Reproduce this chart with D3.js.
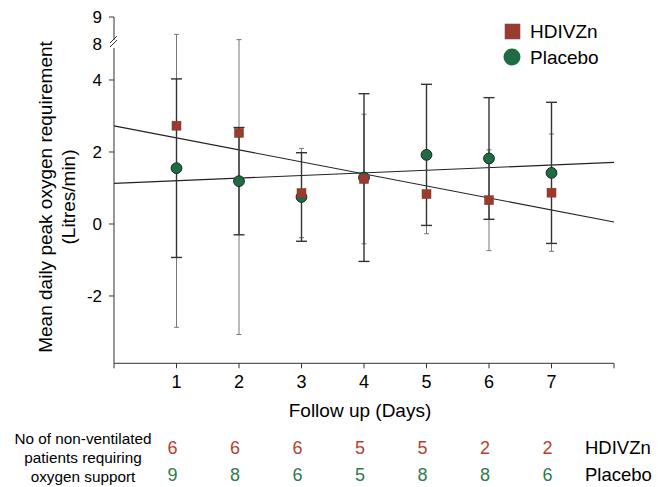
<!DOCTYPE html>
<html>
<head>
<meta charset="utf-8">
<script src="https://cdn.jsdelivr.net/npm/d3@7"></script>
<style>
  body { margin: 0; background: #fff; }
  svg { font-family: 'Liberation Sans', Arial, sans-serif; }
</style>
</head>
<body>
<div id="chart"></div>
<script>
const width = 665;
const height = 487;

const days = [1, 2, 3, 4, 5, 6, 7];
const zincMean = [2.73, 2.53, 0.86, 1.25, 0.83, 0.66, 0.87];
const zincSd = [5.6, 5.6, 1.24, 1.8, 1.1, 1.4, 1.63];
const placeboMean = [1.55, 1.19, 0.75, 1.29, 1.92, 1.82, 1.42];
const placeboSd = [2.48, 1.49, 1.23, 2.33, 1.96, 1.69, 1.96];
const zincCount = [6, 6, 6, 5, 5, 2, 2];
const placeboCount = [9, 8, 6, 5, 8, 8, 6];
const yTicks = [-2, 0, 2, 4];
const yTicksTop = [8, 9];

const red = '#9c3a2b';
const green = '#1f6b44';
const redText = '#b5402f';
const greenText = '#2f7a4f';

const svg = d3.select('#chart').append('svg')
    .attr('width', width)
    .attr('height', height);

const x = d3.scaleLinear().domain([0, 8]).range([114, 614]);
// broken axis: lower part up to 5, upper part 8..9
const y = d3.scaleLinear().domain([-3.87, 5, 8, 9]).range([363.3, 44, 43, 17]);

// least squares fit of the daily means
function fit(ys) {
    const mx = d3.mean(days), my = d3.mean(ys);
    const slope = d3.sum(days, (d, i) => (d - mx) * (ys[i] - my)) / d3.sum(days, d => (d - mx) ** 2);
    return {slope, intercept: my - slope * mx};
}

// axes
const axisColor = '#333';
const xAxis = svg.append('g').attr('transform', `translate(0,${y(-3.87)})`);
xAxis.append('line').attr('x1', x(0)).attr('x2', x(8)).attr('stroke', axisColor);
xAxis.selectAll('line.tick').data(d3.range(0, 9)).join('line')
    .attr('class', 'tick')
    .attr('x1', d => x(d)).attr('x2', d => x(d))
    .attr('y1', 0).attr('y2', 5)
    .attr('stroke', axisColor);
xAxis.selectAll('text').data(days).join('text')
    .attr('x', d => x(d)).attr('y', 25)
    .attr('text-anchor', 'middle')
    .attr('font-size', 18)
    .text(d => d);

const yAxis = svg.append('g');
yAxis.append('line').attr('x1', x(0)).attr('x2', x(0))
    .attr('y1', y(-3.87)).attr('y2', 48).attr('stroke', axisColor);
yAxis.append('line').attr('x1', x(0)).attr('x2', x(0))
    .attr('y1', 40).attr('y2', y(9)).attr('stroke', axisColor);
yAxis.selectAll('path.brk').data([0, 4]).join('path')
    .attr('class', 'brk')
    .attr('d', d => `M${x(0) - 4},${47 - d}L${x(0) + 3},${40 - d}`)
    .attr('stroke', axisColor).attr('fill', 'none');
yAxis.selectAll('line.tick').data(yTicks.concat([9])).join('line')
    .attr('class', 'tick')
    .attr('x1', x(0) - 5).attr('x2', x(0))
    .attr('y1', d => y(d)).attr('y2', d => y(d))
    .attr('stroke', axisColor);
yAxis.selectAll('text').data(yTicks.concat(yTicksTop)).join('text')
    .attr('x', x(0) - 12)
    .attr('y', d => y(d) + (d === 8 ? 1 : 0))
    .attr('dy', '0.35em')
    .attr('text-anchor', 'end')
    .attr('font-size', 17)
    .text(d => d);

svg.append('text')
    .attr('transform', 'translate(45,197) rotate(-90)')
    .attr('text-anchor', 'middle').attr('dy', '0.35em')
    .attr('font-size', 19)
    .text('Mean daily peak oxygen requirement');
svg.append('text')
    .attr('transform', 'translate(68,197) rotate(-90)')
    .attr('text-anchor', 'middle').attr('dy', '0.35em')
    .attr('font-size', 19)
    .text('(Litres/min)');
svg.append('text')
    .attr('x', 360).attr('y', 410)
    .attr('text-anchor', 'middle').attr('dy', '0.35em')
    .attr('font-size', 19)
    .text('Follow up (Days)');

// regression lines
[zincMean, placeboMean].forEach(ys => {
    const f = fit(ys);
    svg.append('line')
        .attr('x1', x(0)).attr('y1', y(f.intercept))
        .attr('x2', x(8)).attr('y2', y(f.intercept + 8 * f.slope))
        .attr('stroke', '#222').attr('stroke-width', 1.1);
});

// error bars
function errorBars(means, sds, color, lw, cap) {
    const g = svg.append('g').attr('stroke', color).attr('stroke-width', lw);
    g.selectAll('line.v').data(days).join('line')
        .attr('class', 'v')
        .attr('x1', d => x(d)).attr('x2', d => x(d))
        .attr('y1', (d, i) => y(means[i] - sds[i]))
        .attr('y2', (d, i) => y(means[i] + sds[i]));
    [-1, 1].forEach(s => {
        g.selectAll('line.c' + (s + 1)).data(days).join('line')
            .attr('class', 'c' + (s + 1))
            .attr('x1', d => x(d) - cap).attr('x2', d => x(d) + cap)
            .attr('y1', (d, i) => y(means[i] + s * sds[i]))
            .attr('y2', (d, i) => y(means[i] + s * sds[i]));
    });
}
errorBars(zincMean, zincSd, '#777', 1, 2.5);
errorBars(placeboMean, placeboSd, '#333', 1.4, 5.5);

// markers
svg.append('g').selectAll('circle').data(days).join('circle')
    .attr('cx', d => x(d))
    .attr('cy', (d, i) => y(placeboMean[i]))
    .attr('r', 5.4)
    .attr('fill', green).attr('stroke', '#1a2a20').attr('stroke-width', 1);
svg.append('g').selectAll('rect').data(days).join('rect')
    .attr('x', d => x(d) - 4.5)
    .attr('y', (d, i) => y(zincMean[i]) - 4.5)
    .attr('width', 9).attr('height', 9)
    .attr('fill', red).attr('stroke', '#7a3a30').attr('stroke-width', 0.5);

// legend
const legend = svg.append('g').attr('font-size', 19);
legend.append('rect').attr('x', 505).attr('y', 24).attr('width', 15).attr('height', 15)
    .attr('fill', red).attr('stroke', '#6a5a70').attr('stroke-width', 0.6);
legend.append('circle').attr('cx', 512).attr('cy', 57).attr('r', 8.5).attr('fill', green);
legend.append('text').attr('x', 530).attr('y', 31).attr('dy', '0.35em').text('HDIVZn');
legend.append('text').attr('x', 530).attr('y', 57).attr('dy', '0.35em').text('Placebo');

// patient counts table
const table = svg.append('g');
table.selectAll('text.lab').data(['No of non-ventilated', 'patients requiring', 'oxygen support']).join('text')
    .attr('class', 'lab')
    .attr('x', 83).attr('y', (d, i) => 439 + i * 19)
    .attr('dy', '0.35em').attr('text-anchor', 'middle')
    .attr('font-size', 15.3)
    .text(d => d);
table.selectAll('text.zn').data(days).join('text')
    .attr('class', 'zn')
    .attr('x', d => x(d) - 4).attr('y', 448)
    .attr('dy', '0.35em').attr('text-anchor', 'middle')
    .attr('font-size', 18).attr('fill', redText)
    .text((d, i) => zincCount[i]);
table.selectAll('text.pl').data(days).join('text')
    .attr('class', 'pl')
    .attr('x', d => x(d) - 4).attr('y', 475)
    .attr('dy', '0.35em').attr('text-anchor', 'middle')
    .attr('font-size', 18).attr('fill', greenText)
    .text((d, i) => placeboCount[i]);
table.append('text').attr('x', 585).attr('y', 448).attr('dy', '0.35em')
    .attr('font-size', 18.5).text('HDIVZn');
table.append('text').attr('x', 585).attr('y', 475).attr('dy', '0.35em')
    .attr('font-size', 18.5).text('Placebo');
</script>
</body>
</html>
